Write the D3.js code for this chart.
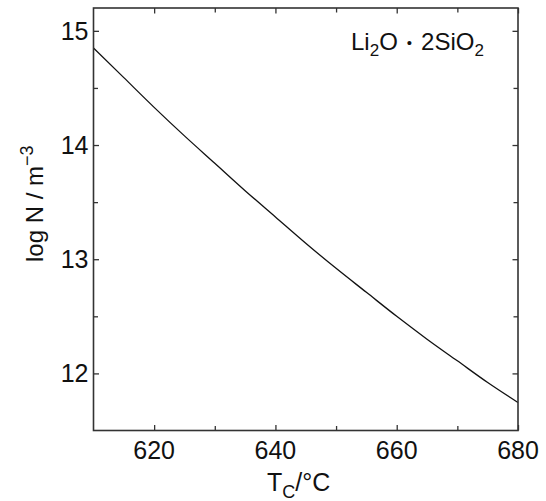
<!DOCTYPE html>
<html>
<head>
<meta charset="utf-8">
<script src="https://cdn.jsdelivr.net/npm/d3@7"></script>
<style>
  body { margin: 0; background: #fff; }
  svg text { font-family: "Liberation Sans", Arial, sans-serif; fill: #111; }
</style>
</head>
<body>
<div id="chart"></div>
<script>
'use strict';

// crystallisation temperature, degC
const tempC = [610, 615, 620, 625, 630, 635, 640, 645, 650, 655, 660, 665, 670, 675, 680];
// log of nucleus density, m^-3
const logN  = [14.85, 14.59, 14.33, 14.08, 13.84, 13.60, 13.37, 13.14, 12.92, 12.71, 12.50, 12.30, 12.11, 11.92, 11.745];

const xMajor = [620, 640, 660, 680];
const xMinor = [630, 650, 670];
const yMajor = [12, 13, 14, 15];
const yMinor = [12.5, 13.5, 14.5];

const xDomain = [610, 680];
const yDomain = [11.5, 15.2];

const width = 546, height = 501;
const margin = {left: 93.5, right: 28, top: 8, bottom: 70.5};
const w = width - margin.left - margin.right;
const h = height - margin.top - margin.bottom;

const svg = d3.select('#chart')
    .append('svg')
    .attr('width', width)
    .attr('height', height);

const cht = svg.append('g')
    .attr('transform', `translate(${margin.left},${margin.top})`);

const xScale = d3.scaleLinear().domain(xDomain).range([0, w]);
const yScale = d3.scaleLinear().domain(yDomain).range([h, 0]);

const axisColor = '#333';

// inward ticks on all four sides
function tickAxis (axis, scale, values, len)
{
    return axis(scale).tickValues(values).tickSize(-len).tickFormat('');
}

const axes = [
    {fn: d3.axisBottom, scale: xScale, pos: `translate(0,${h})`},
    {fn: d3.axisTop,    scale: xScale, pos: 'translate(0,0)'},
    {fn: d3.axisLeft,   scale: yScale, pos: 'translate(0,0)'},
    {fn: d3.axisRight,  scale: yScale, pos: `translate(${w},0)`}
];

axes.forEach(a =>
{
    const isX = a.scale === xScale;
    const major = isX ? xMajor : yMajor;
    const minor = isX ? xMinor : yMinor;

    [[major, 5.5], [minor, 4.5]].forEach(([vals, len]) =>
    {
        const g = cht.append('g')
            .attr('transform', a.pos)
            .call(tickAxis(a.fn, a.scale, vals, len));
        g.select('.domain').remove();
        g.selectAll('line').attr('stroke', axisColor).attr('stroke-width', 1.3);
    });
});

// tick labels
cht.selectAll('.xlab')
    .data(xMajor)
    .enter()
    .append('text')
    .attr('class', 'xlab')
    .attr('x', d => xScale(d))
    .attr('y', h + 28)
    .attr('text-anchor', 'middle')
    .style('font-size', '25px')
    .text(d => d);

cht.selectAll('.ylab')
    .data(yMajor)
    .enter()
    .append('text')
    .attr('class', 'ylab')
    .attr('x', -5)
    .attr('y', d => yScale(d))
    .attr('dy', '0.36em')
    .attr('text-anchor', 'end')
    .style('font-size', '25px')
    .text(d => d);

// curve
const line = d3.line()
    .x((d, i) => xScale(tempC[i]))
    .y(d => yScale(d))
    .curve(d3.curveMonotoneX);

cht.append('path')
    .datum(logN)
    .attr('d', line)
    .attr('fill', 'none')
    .attr('stroke', '#111')
    .attr('stroke-width', 1.3);

// frame
cht.append('rect')
    .attr('width', w)
    .attr('height', h)
    .attr('fill', 'none')
    .attr('stroke', axisColor)
    .attr('stroke-width', 1.6);

// x axis title
const xt = svg.append('text')
    .attr('x', 267)
    .attr('y', 491)
    .style('font-size', '25px');
xt.append('tspan').text('T');
xt.append('tspan').attr('dy', 7).style('font-size', '18px').text('C');
xt.append('tspan').attr('dy', -7).text('/°C');

// y axis title
const yt = svg.append('text')
    .attr('transform', 'translate(43,262) rotate(-90)')
    .style('font-size', '24px');
yt.append('tspan').text('log N / m');
yt.append('tspan').attr('dy', -10).style('font-size', '18px').text('−3');

// compound label
const ct = svg.append('text')
    .attr('x', 351)
    .attr('y', 50)
    .style('font-size', '24px');
ct.append('tspan').text('Li');
ct.append('tspan').attr('dy', 6).style('font-size', '17px').text('2');
ct.append('tspan').attr('dy', -6).text('O');
ct.append('tspan').attr('dx', 9).attr('dy', -2).style('font-size', '15px').text('•');
ct.append('tspan').attr('dx', 9).attr('dy', 2).text('2SiO');
ct.append('tspan').attr('dy', 6).style('font-size', '17px').text('2');
</script>
</body>
</html>
